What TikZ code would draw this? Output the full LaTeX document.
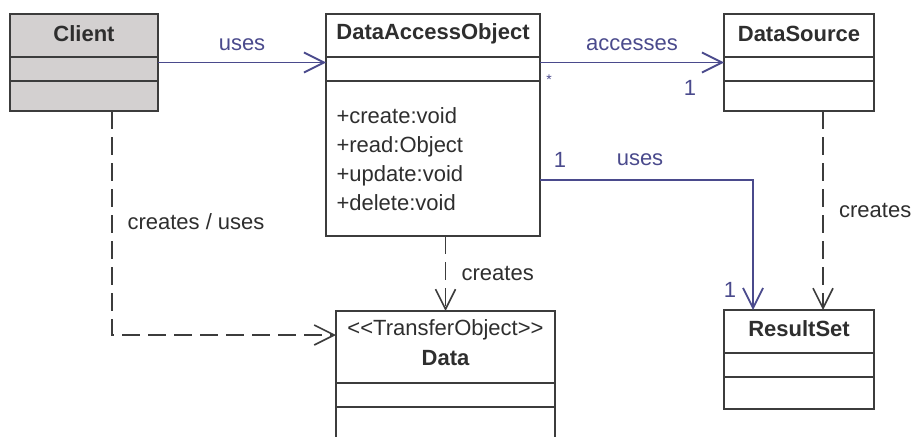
\documentclass[tikz,border=0pt]{standalone}
\usepackage{fontspec}
\setmainfont{Liberation Sans}
\usetikzlibrary{calc,arrows.meta}

\definecolor{linegray}{HTML}{3C3C3C}
\definecolor{assocblue}{HTML}{4A4A8C}
\definecolor{clientgray}{HTML}{D3D0D0}
\definecolor{textgray}{HTML}{2E2E2E}

\begin{document}
\begin{tikzpicture}[x=1pt,y=-1pt,
    font=\fontsize{22}{29}\selectfont,text=textgray,
    cls/.style={draw=linegray,line width=1.6pt,anchor=north west,inner sep=0pt,outer sep=0pt},
    sep/.style={draw=linegray,line width=1.6pt},
    ctitle/.style={font=\fontsize{22}{29}\selectfont\bfseries},
    assoc/.style={draw=assocblue,line width=1.8pt,-{Straight Barb[length=20pt,width=20pt]}},
    dep/.style={draw=linegray,line width=1.6pt,dash pattern=on 18pt off 8pt,-{Straight Barb[length=20pt,width=20pt]}},
    blab/.style={text=assocblue}]
  \useasboundingbox (0,0) rectangle (912,436);
  \clip (0,0) rectangle (912,436);

  % die Klassen
  \node[cls,fill=clientgray,minimum width=148,minimum height=97] (client) at (10,14) {};
  \node[cls,minimum width=214,minimum height=222] (dao) at (326,14) {};
  \node[cls,minimum width=150,minimum height=97] (ds) at (724,14) {};
  \node[cls,minimum width=150,minimum height=99] (rs) at (724,310) {};
  \node[cls,minimum width=219,minimum height=150] (data) at (336,311) {};

  % Trennlinien der Abschnitte
  \foreach \b/\ya/\yb in {client/43/67,dao/43/67,ds/43/67,rs/43/67,data/72/96}{
    \draw[sep] ($(\b.north west)+(0,\ya)$) -- ($(\b.north east)+(0,\ya)$);
    \draw[sep] ($(\b.north west)+(0,\yb)$) -- ($(\b.north east)+(0,\yb)$);
  }

  % Namen
  \node[ctitle] (client-t) at ($(client.north)+(0,20)$) {Client};
  \node[ctitle] (dao-t) at ($(dao.north)+(0,20)$) {DataAccessObject};
  \node[ctitle] (ds-t) at ($(ds.north)+(0,20)$) {DataSource};
  \node[ctitle] (rs-t) at ($(rs.north)+(0,19)$) {ResultSet};
  \node (data-s) at ($(data.north)+(0,19)$) {<\kern0pt<TransferObject>\kern0pt>};
  \node[ctitle] (data-t) at ($(data.north)+(0,47)$) {Data};
  \node[anchor=west,align=left] (dao-m) at ($(dao.north west)+(7,145)$)
    {+create:void\\+read:Object\\+update:void\\+delete:void};

  % Assoziationen
  \draw[assoc] (client.east) -- (client.east -| dao.west)
    node[midway,above=8pt,blab] {uses};
  \draw[assoc] (ds.west -| dao.east) -- (ds.west)
    node[midway,above=8pt,blab] {accesses};
  \node[blab,font=\fontsize{14}{14}\selectfont] (star) at ($(dao.north east)+(9,66)$) {*};
  \node[blab] (ds-one) at ($(ds.north west)+(-34,74)$) {1};

  \coordinate (dao-r) at ($(dao.north east)+(0,166)$);
  \coordinate (rs-in) at ($(rs.north west)+(29,0)$);
  \draw[assoc] (dao-r) -| (rs-in);
  \node[blab] (dao-one) at ($(dao-r)+(20,-20)$) {1};
  \node[blab] (uses-t) at ($(dao-r)+(100,-20)$) {uses};
  \node[blab] (rs-one) at ($(rs-in)+(-23,-20)$) {1};

  % Abhaengigkeiten
  \draw[dep] ($(ds.south)+(24,0)$) -- ($(rs.north)+(24,0)$)
    node[midway,right=12pt] {creates};
  \draw[dep] (data.north |- dao.south) -- (data.north)
    node[midway,right=12pt] {creates};
  \coordinate (cl-out) at ($(client.south)+(28,0)$);
  \coordinate (data-in) at ($(data.north west)+(0,24)$);
  \draw[dep] (cl-out) |- (data-in);
  \node[anchor=west] (cu-t) at ($(cl-out)+(12,111)$) {creates / uses};
\end{tikzpicture}
\end{document}
